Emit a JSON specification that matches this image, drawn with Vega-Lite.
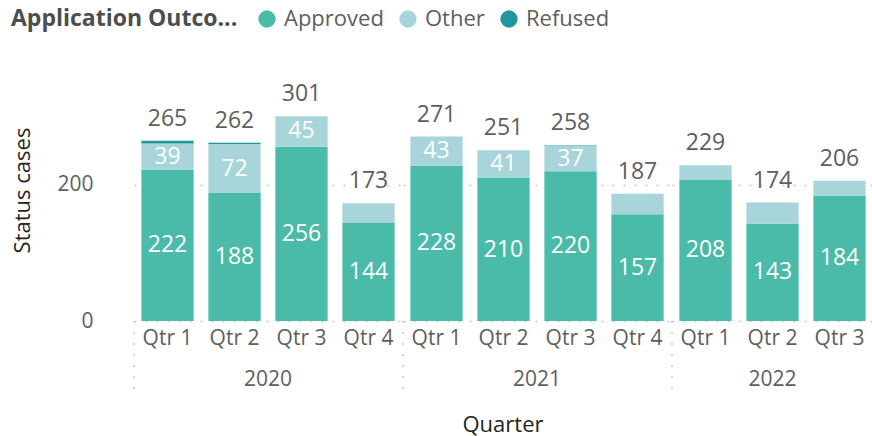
{
  "$schema": "https://vega.github.io/schema/vega-lite/v6.json",
  "padding": {"left": 11, "top": 8, "right": 0, "bottom": 4},
  "background": "white",
  "data": {
    "values": [
      {"Year": "2020", "Quarter": "Qtr 1", "Status": "Approved", "Count": 222},
      {"Year": "2020", "Quarter": "Qtr 1", "Status": "Other", "Count": 39},
      {"Year": "2020", "Quarter": "Qtr 1", "Status": "Refused", "Count": 4},
      {"Year": "2020", "Quarter": "Qtr 2", "Status": "Approved", "Count": 188},
      {"Year": "2020", "Quarter": "Qtr 2", "Status": "Other", "Count": 72},
      {"Year": "2020", "Quarter": "Qtr 2", "Status": "Refused", "Count": 2},
      {"Year": "2020", "Quarter": "Qtr 3", "Status": "Approved", "Count": 256},
      {"Year": "2020", "Quarter": "Qtr 3", "Status": "Other", "Count": 45},
      {"Year": "2020", "Quarter": "Qtr 4", "Status": "Approved", "Count": 144},
      {"Year": "2020", "Quarter": "Qtr 4", "Status": "Other", "Count": 29},
      {"Year": "2021", "Quarter": "Qtr 1", "Status": "Approved", "Count": 228},
      {"Year": "2021", "Quarter": "Qtr 1", "Status": "Other", "Count": 43},
      {"Year": "2021", "Quarter": "Qtr 2", "Status": "Approved", "Count": 210},
      {"Year": "2021", "Quarter": "Qtr 2", "Status": "Other", "Count": 41},
      {"Year": "2021", "Quarter": "Qtr 3", "Status": "Approved", "Count": 220},
      {"Year": "2021", "Quarter": "Qtr 3", "Status": "Other", "Count": 37},
      {"Year": "2021", "Quarter": "Qtr 3", "Status": "Refused", "Count": 1},
      {"Year": "2021", "Quarter": "Qtr 4", "Status": "Approved", "Count": 157},
      {"Year": "2021", "Quarter": "Qtr 4", "Status": "Other", "Count": 30},
      {"Year": "2022", "Quarter": "Qtr 1", "Status": "Approved", "Count": 208},
      {"Year": "2022", "Quarter": "Qtr 1", "Status": "Other", "Count": 21},
      {"Year": "2022", "Quarter": "Qtr 2", "Status": "Approved", "Count": 143},
      {"Year": "2022", "Quarter": "Qtr 2", "Status": "Other", "Count": 31},
      {"Year": "2022", "Quarter": "Qtr 3", "Status": "Approved", "Count": 184},
      {"Year": "2022", "Quarter": "Qtr 3", "Status": "Other", "Count": 22}
    ]
  },
  "facet": {
    "column": {
      "field": "Year",
      "type": "ordinal",
      "title": "Quarter",
      "header": {
        "labelOrient": "bottom",
        "titleOrient": "bottom",
        "labelFont": "Open Sans",
        "labelFontSize": 21,
        "labelColor": "#605E5C",
        "labelPadding": -29,
        "titleFont": "Open Sans",
        "titleFontSize": 22,
        "titleFontWeight": "normal",
        "titleColor": "#252423",
        "titlePadding": 7
      }
    }
  },
  "spacing": 0,
  "resolve": {"scale": {"x": "independent"}},
  "spec": {
    "width": {"step": 67},
    "height": 262,
    "encoding": {
      "x": {
        "field": "Quarter",
        "type": "ordinal",
        "scale": {"type": "band", "paddingInner": 0.22, "paddingOuter": 0.11},
        "axis": {"title": null, "labelAngle": 0, "domain": false, "ticks": false, "labelPadding": 6, "labelFontSize": 21, "labelColor": "#605E5C"}
      }
    },
    "layer": [
      {
        "transform": [{"filter": "datum.Quarter == 'Qtr 1' && datum.Status == 'Approved'"}],
        "mark": {"type": "rule", "color": "#c8c8c8", "strokeDash": [2, 9], "strokeWidth": 1.5, "xOffset": -33.5},
        "encoding": {
          "y": {"datum": 0, "type": "quantitative"},
          "y2": {"datum": -112}
        }
      },
      {
        "mark": {"type": "bar"},
        "encoding": {
          "y": {
            "field": "Count",
            "type": "quantitative",
            "stack": "zero",
            "scale": {"domain": [0, 385], "nice": false},
            "axis": {"values": [0, 200], "title": "Status cases", "domain": false, "ticks": false, "labelPadding": 40, "titlePadding": 22, "labelFontSize": 21, "labelColor": "#605E5C", "titleFontSize": 22, "titleFontWeight": "normal", "titleColor": "#252423", "grid": true, "gridDash": [2, 9], "gridColor": "#c8c8c8", "gridWidth": 1.5}
          },
          "color": {
            "field": "Status",
            "type": "nominal",
            "scale": {"domain": ["Approved", "Other", "Refused"], "range": ["#49BBA8", "#A8D5DA", "#2096A0"]},
            "legend": {"title": "Application Outco..."}
          },
          "order": {"field": "Status", "sort": "ascending"}
        }
      },
      {
        "transform": [{"filter": "datum.Status == 'Approved' || (datum.Status == 'Other' && datum.Count >= 35)"}],
        "mark": {"type": "text", "color": "white", "fontSize": 23, "baseline": "middle"},
        "encoding": {
          "y": {"field": "Count", "type": "quantitative", "stack": "zero", "bandPosition": 0.5},
          "detail": {"field": "Status"},
          "order": {"field": "Status", "sort": "ascending"},
          "text": {"field": "Count", "type": "quantitative"}
        }
      },
      {
        "mark": {"type": "text", "color": "#605E5C", "fontSize": 23, "baseline": "alphabetic", "dy": -15},
        "encoding": {
          "y": {"aggregate": "sum", "field": "Count", "type": "quantitative"},
          "text": {"aggregate": "sum", "field": "Count", "type": "quantitative"}
        }
      }
    ]
  },
  "config": {
    "font": "Open Sans",
    "view": {"stroke": null},
    "axis": {"labelFont": "Open Sans", "titleFont": "Open Sans"},
    "legend": {
      "orient": "none",
      "legendX": -123,
      "legendY": -51,
      "direction": "horizontal",
      "titleOrient": "left",
      "titleFont": "Open Sans",
      "titleFontSize": 23,
      "titleFontWeight": "bold",
      "titleColor": "#4d4d4d",
      "titlePadding": 18,
      "titleLimit": 400,
      "labelFont": "Open Sans",
      "labelFontSize": 22,
      "labelColor": "#605E5C",
      "labelOffset": 6,
      "columnPadding": 13,
      "symbolType": "circle",
      "symbolSize": 300,
      "symbolStrokeWidth": 0,
      "symbolOpacity": 1
    }
  }
}
